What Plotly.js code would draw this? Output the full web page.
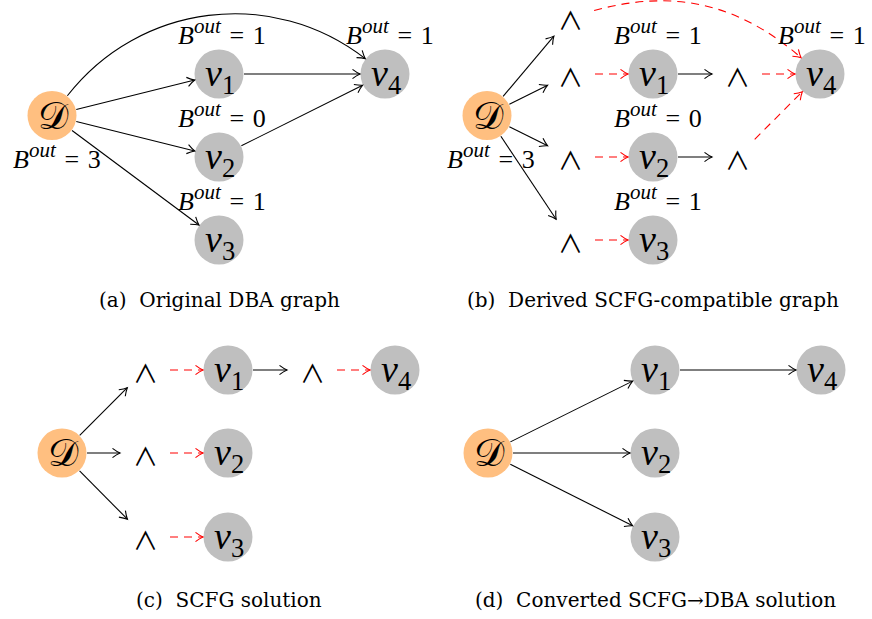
<!DOCTYPE html>
<html><head><meta charset="utf-8">
<script src="https://cdn.plot.ly/plotly-3.0.1.min.js"></script>
<style>html,body{margin:0;padding:0;background:#fff;}#chart{width:872px;height:619px;}</style>
</head><body><div id="chart"></div>
<script>
// ---- nodes ----
const nodeId    = ['aD','a1','a2','a3','a4',
                   'bD','bw1','bw2','bw3','bw4','b1','b2','b3','bw5','bw6','b4',
                   'cD','cw1','cw2','cw3','c1','c2','c3','cw4','c4',
                   'dD','d1','d2','d3','d4'];
const nodeX     = [52,219,219,219,385,
                   487,570,570,570,570,653,653,653,737,737,820,
                   62,145,145,145,228,228,228,312,395,
                   488,655,655,655,821];
const nodeY     = [115.5,74,157,240,74,
                   115.5,17,74,157,240,74,157,240,74,157,74,
                   453,370,453,537,370,453,537,370,370,
                   453,370,453,537,370];
const nodeKind  = ['src','task','task','task','task',
                   'src','and','and','and','and','task','task','task','and','and','task',
                   'src','and','and','and','task','task','task','and','task',
                   'src','task','task','task','task'];
const nodeLabel = ['D','1','2','3','4',
                   'D','','','','','1','2','3','','','4',
                   'D','','','','1','2','3','','4',
                   'D','1','2','3','4'];

// ---- edges ----
const edgeFrom   = ['aD','aD','aD','a1','a2','aD',
                    'bD','bD','bD','bD','bw2','bw3','bw4','b1','b2','bw5','bw6','bw1',
                    'cD','cD','cD','cw1','cw2','cw3','c1','cw4',
                    'dD','dD','dD','d1'];
const edgeTo     = ['a1','a2','a3','a4','a4','a4',
                    'bw1','bw2','bw3','bw4','b1','b2','b3','bw5','bw6','b4','b4','b4',
                    'cw1','cw2','cw3','c1','c2','c3','cw4','c4',
                    'd1','d2','d3','d4'];
const edgeDashed = [0,0,0,0,0,0,
                    0,0,0,0,1,1,1,0,0,1,1,1,
                    0,0,0,1,1,1,0,1,
                    0,0,0,0];
const edgeBend   = [0,0,0,0,0,45,
                    0,0,0,0,0,0,0,0,0,0,0,28,
                    0,0,0,0,0,0,0,0,
                    0,0,0,0];

// ---- budget labels ----
const budgetValue = ['3','1','0','1','1','3','1','0','1','1'];
const budgetX     = [57,222,222,222,390,491,658,658,658,822];
const budgetY     = [156,32,115,198,32,156,32,115,198,32];

// ---- captions ----
const captionText = ['(a)\u00a0\u00a0Original DBA graph','(b)\u00a0\u00a0Derived SCFG-compatible graph',
                     '(c)\u00a0\u00a0SCFG solution','(d)\u00a0\u00a0Converted SCFG\u2192DBA solution'];
const captionX    = [219,653,229,655];
const captionY    = [300,300,600,600];

const R = 25;
const idx = {}; nodeId.forEach((n,i)=>idx[n]=i);
const shapes = [];
const annotations = [];
const RED = '#ff0000', BLK = '#000000';

function arrowHead(ex,ey,dx,dy,color){
  const L=7.5, W=4.6;
  const nx=-dy, ny=dx;
  const b1x=ex-L*dx+W*nx, b1y=ey-L*dy+W*ny;
  const b2x=ex-L*dx-W*nx, b2y=ey-L*dy-W*ny;
  const c1x=ex-0.45*L*dx+0.32*W*nx, c1y=ey-0.45*L*dy+0.32*W*ny;
  const c2x=ex-0.45*L*dx-0.32*W*nx, c2y=ey-0.45*L*dy-0.32*W*ny;
  shapes.push({type:'path',xref:'x',yref:'y',layer:'above',
    path:`M${b1x},${b1y} Q${c1x},${c1y} ${ex},${ey} Q${c2x},${c2y} ${b2x},${b2y}`,
    line:{color:color,width:1.1}});
}

for(let k=0;k<edgeFrom.length;k++){
  const a=idx[edgeFrom[k]], b=idx[edgeTo[k]];
  const ax=nodeX[a], ay=nodeY[a], bx=nodeX[b], by=nodeY[b];
  const col = edgeDashed[k] ? RED : BLK;
  const dash = edgeDashed[k] ? '8px,6px' : 'solid';
  const phi = Math.atan2(by-ay,bx-ax);
  const th = edgeBend[k]*Math.PI/180;
  const aOut = phi - th, aIn = phi + th;
  const sx=ax+R*Math.cos(aOut), sy=ay+R*Math.sin(aOut);
  const ex=bx-R*Math.cos(aIn), ey=by-R*Math.sin(aIn);
  let path;
  if(th===0){
    path=`M${sx},${sy} L${ex},${ey}`;
  } else {
    const Lc=0.3915*Math.hypot(ex-sx,ey-sy);
    const c1x=sx+Lc*Math.cos(aOut), c1y=sy+Lc*Math.sin(aOut);
    const c2x=ex-Lc*Math.cos(aIn), c2y=ey-Lc*Math.sin(aIn);
    path=`M${sx},${sy} C${c1x},${c1y} ${c2x},${c2y} ${ex},${ey}`;
  }
  shapes.push({type:'path',xref:'x',yref:'y',layer:'above',path:path,
    line:{color:col,width:1.1,dash:dash}});
  arrowHead(ex,ey,Math.cos(aIn),Math.sin(aIn),col);
}

// node circles
const srcIdx = nodeKind.map((k,i)=>k==='src'?i:-1).filter(i=>i>=0);
const taskIdx = nodeKind.map((k,i)=>k==='task'?i:-1).filter(i=>i>=0);
const traces = [
  {type:'scatter',mode:'markers',x:srcIdx.map(i=>nodeX[i]),y:srcIdx.map(i=>nodeY[i]),
   marker:{size:49,color:'#ffbf80',line:{width:0}},hoverinfo:'skip'},
  {type:'scatter',mode:'markers',x:taskIdx.map(i=>nodeX[i]),y:taskIdx.map(i=>nodeY[i]),
   marker:{size:49,color:'#bfbfbf',line:{width:0}},hoverinfo:'skip'}
];

const mathFont = 'Liberation Serif';
nodeKind.forEach((k,i)=>{
  if(k==='and'){
    annotations.push({x:nodeX[i],y:nodeY[i]+1.5,xref:'x',yref:'y',showarrow:false,
      text:'\u2227',font:{family:'Noto Sans CJK JP',size:25,color:'#000'},xanchor:'center',yanchor:'middle'});
  } else if(k==='src'){
    annotations.push({x:nodeX[i]+1,y:nodeY[i],xref:'x',yref:'y',showarrow:false,
      text:'\ud835\udc9f',font:{family:'DejaVu Serif, DejaVu Sans, serif',size:38,color:'#000'},xanchor:'center',yanchor:'middle'});
  } else {
    annotations.push({x:nodeX[i]+1,y:nodeY[i]+2,xref:'x',yref:'y',showarrow:false,
      text:'<i>v</i><sub>'+nodeLabel[i]+'</sub>',font:{family:mathFont,size:38,color:'#000'},xanchor:'center',yanchor:'middle'});
  }
});

budgetValue.forEach((v,i)=>{
  annotations.push({x:budgetX[i],y:budgetY[i],xref:'x',yref:'y',showarrow:false,
    text:'<i>B</i><sup><i><span style="font-size:21px">out</span></i></sup>\u2004=\u2004'+v,font:{family:mathFont,size:26,color:'#000'},
    xanchor:'center',yanchor:'middle'});
});

captionText.forEach((t,i)=>{
  annotations.push({x:captionX[i],y:captionY[i],xref:'x',yref:'y',showarrow:false,
    text:t,font:{family:'DejaVu Serif',size:20,color:'#000'},xanchor:'center',yanchor:'middle'});
});

const layout = {
  width:872,height:619,margin:{l:0,r:0,t:0,b:0},
  paper_bgcolor:'#ffffff',plot_bgcolor:'#ffffff',showlegend:false,
  xaxis:{range:[0,872],visible:false,fixedrange:true},
  yaxis:{range:[619,0],visible:false,fixedrange:true},
  shapes:shapes,annotations:annotations
};
Plotly.newPlot('chart',traces,layout,{staticPlot:true,displayModeBar:false});
</script></body></html>
